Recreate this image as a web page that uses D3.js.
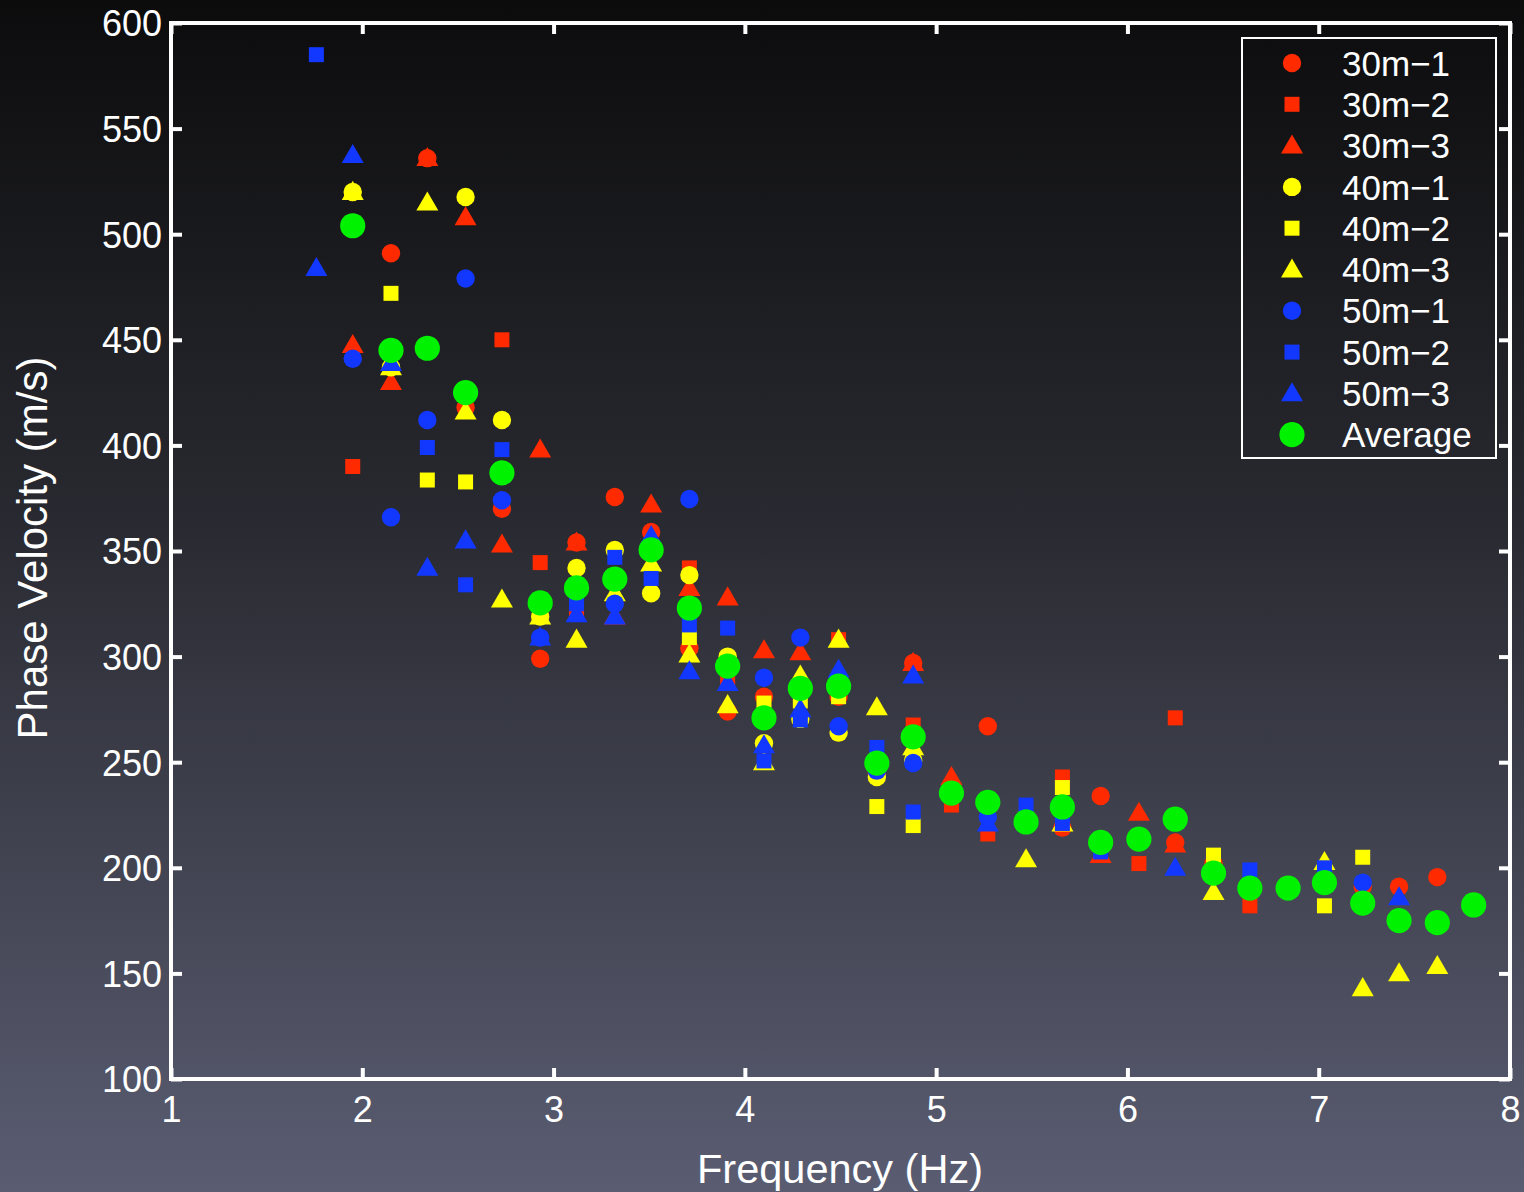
<!DOCTYPE html>
<html>
<head>
<meta charset="utf-8">
<script src="https://cdn.jsdelivr.net/npm/d3@7"></script>
<style>
  html, body { margin: 0; padding: 0; background: #000; }
  svg { display: block; }
  text { font-family: "Liberation Sans", Arial, Helvetica, sans-serif; fill: #fff; }
</style>
</head>
<body>
<svg id="chart" width="1524" height="1192"></svg>
<script>
// ---- Data ----
const frequencies = [1.76,1.95,2.15,2.34,2.54,2.73,2.93,3.12,3.32,3.51,3.71,3.91,4.10,4.29,4.49,4.69,4.88,5.08,5.27,5.47,5.66,5.86,6.06,6.25,6.45,6.64,6.84,7.03,7.23,7.42,7.62,7.81];
const N = null;
const v30m1 = [N,N,491,536,418,370,299,354,375.6,359,304,274,281,N,281,245,297,N,267,N,219,234,N,212,202,N,N,195,191,191,195.6,N];
const v30m2 = [N,390,N,N,N,450,344.5,321,N,N,342,290,N,N,308,N,267.6,229.7,216,N,243,N,202,271,N,182,N,N,N,N,N,N];
const v30m3 = [N,447.5,430,536,508,353,398,354,319,372,332.5,328,303,302,N,N,297,243,N,N,N,206,226,211,N,N,N,N,N,N,N,N];
const v40m1 = [N,520,437,N,517.6,412,319,342,350.5,330,338.6,300,259,270.5,264,243,251,N,N,N,N,N,N,N,N,N,N,N,N,N,N,N];
const v40m2 = [N,N,472,383.6,382.7,N,N,N,N,N,309,N,278,279,281,229,220,N,N,N,238,N,N,N,206,N,N,182,205,N,N,N];
const v40m3 = [N,520,437,515,416,327,319,308,330,344,301,277,250,291,308,276,257,N,N,204,221,N,N,N,188.5,N,N,202.7,143,150,153.5,N];
const v50m1 = [N,441,366,412,479,374,309,N,325,N,374.6,N,290,309,267,246,249.6,N,224,N,N,N,N,N,N,N,N,N,193,N,N,N];
const v50m2 = [585,N,N,399,334,398,N,325,347,337,315,313.5,250.6,270,N,257,226.4,N,N,229.7,221,207.5,N,N,N,199,N,200,N,N,N,N];
const v50m3 = [484,537.5,439,342,355,N,309,320,319,357,293,287.5,258,275,293.7,N,291,N,221,N,N,N,N,200,N,N,N,N,N,186,N,N];
const vAverage = [N,504,445,446,425,387,325.4,332.5,336.7,350.5,323,295.5,271,285,286,249.6,262,235.4,231,221.7,228.8,212,213.6,223,197.5,190.4,190.4,193,183.3,175,174,182.4];

const xTicks = [1,2,3,4,5,6,7,8];
const yTicks = [100,150,200,250,300,350,400,450,500,550,600];

const seriesNames = ["30m\u22121","30m\u22122","30m\u22123","40m\u22121","40m\u22122","40m\u22123","50m\u22121","50m\u22122","50m\u22123","Average"];
const seriesValues = [v30m1,v30m2,v30m3,v40m1,v40m2,v40m3,v50m1,v50m2,v50m3,vAverage];
const seriesColors = ["#ff2a00","#ff2a00","#ff2a00","#ffff00","#ffff00","#ffff00","#1238ff","#1238ff","#1238ff","#00f200"];
const seriesShapes = ["circle","square","triangle","circle","square","triangle","circle","square","triangle","big"];

// ---- Layout ----
const W = 1524, H = 1192;
const L = 171, R = 1510, T = 23, B = 1079;
const svg = d3.select("#chart");

const defs = svg.append("defs");
const grad = defs.append("linearGradient").attr("id","bg").attr("x1",0).attr("y1",0).attr("x2",0).attr("y2",1);
grad.append("stop").attr("offset","0%").attr("stop-color","#0c0c0d");
grad.append("stop").attr("offset","45%").attr("stop-color","#2a2b32");
grad.append("stop").attr("offset","100%").attr("stop-color","#5a5d72");
svg.append("rect").attr("width",W).attr("height",H).attr("fill","url(#bg)");

const x = d3.scaleLinear().domain([1,8]).range([L,R]);
const y = d3.scaleLinear().domain([100,600]).range([B,T]);

function symPath(shape) {
  if (shape === "circle") return d3.symbol().type(d3.symbolCircle).size(Math.PI*9.2*9.2)();
  if (shape === "square") return d3.symbol().type(d3.symbolSquare).size(15*15)();
  if (shape === "triangle") return d3.symbol().type(d3.symbolTriangle).size(Math.sqrt(3)/4*22*22)();
  return d3.symbol().type(d3.symbolCircle).size(Math.PI*12.6*12.6)();
}
// triangles centred on their bounding box (as in the source plot), not on the centroid
function symOffset(shape) { return shape === "triangle" ? 1.6 : 0; }

// ---- Axes ----
const fontFam = '"Liberation Sans", Arial, Helvetica, sans-serif';
const axB = svg.append("g").attr("transform",`translate(0,${B})`)
  .call(d3.axisBottom(x).tickValues(xTicks).tickFormat(d3.format("d")).tickSize(-11).tickPadding(17));
const axT = svg.append("g").attr("transform",`translate(0,${T})`)
  .call(d3.axisTop(x).tickValues(xTicks).tickFormat("").tickSize(-11));
const axLft = svg.append("g").attr("transform",`translate(${L},0)`)
  .call(d3.axisLeft(y).tickValues(yTicks).tickFormat(d3.format("d")).tickSize(-11).tickPadding(9));
const axRt = svg.append("g").attr("transform",`translate(${R},0)`)
  .call(d3.axisRight(y).tickValues(yTicks).tickFormat("").tickSize(-11));
[axB,axT,axLft,axRt].forEach(g => {
  g.select(".domain").remove();
  g.selectAll(".tick line").attr("stroke","#fff").attr("stroke-width",4);
  g.selectAll(".tick text").attr("fill","#fff").style("font-size","36px").style("font-family",fontFam);
});
axLft.selectAll(".tick text").attr("dy","0.36em");

// ---- Marks ----
const plot = svg.append("g");
// draw order: per group triangle, square, circle; then average
const order = [2,1,0,5,4,3,8,7,6,9];
order.forEach(si => {
  const pts = frequencies.map((f,i) => ({f, v: seriesValues[si][i]})).filter(d => d.v !== null);
  const off = symOffset(seriesShapes[si]);
  plot.append("g").selectAll("path").data(pts).join("path")
    .attr("d", symPath(seriesShapes[si]))
    .attr("transform", d => `translate(${x(d.f)},${y(d.v) + off})`)
    .attr("fill", seriesColors[si]);
});

// Frame
svg.append("rect").attr("x",L).attr("y",T).attr("width",R-L).attr("height",B-T)
  .attr("fill","none").attr("stroke","#fff").attr("stroke-width",4);

// ---- Labels ----
svg.append("text").attr("x",840).attr("y",1183).attr("text-anchor","middle")
  .style("font-size","41.5px").text("Frequency (Hz)");
svg.append("text").attr("transform",`translate(47,548) rotate(-90)`).attr("text-anchor","middle")
  .style("font-size","42px").text("Phase Velocity (m/s)");

// ---- Legend ----
const lg = svg.append("g");
lg.append("rect").attr("x",1242).attr("y",38).attr("width",254).attr("height",420)
  .attr("fill","none").attr("stroke","#fff").attr("stroke-width",2);
seriesNames.forEach((name,i) => {
  const cy = 63 + i*41.3;
  lg.append("path").attr("d", symPath(seriesShapes[i]))
    .attr("transform",`translate(1292,${cy + symOffset(seriesShapes[i])})`).attr("fill",seriesColors[i]);
  lg.append("text").attr("x",1342).attr("y",cy).attr("dy","0.36em").style("font-size","35px").text(name);
});
</script>
</body>
</html>
